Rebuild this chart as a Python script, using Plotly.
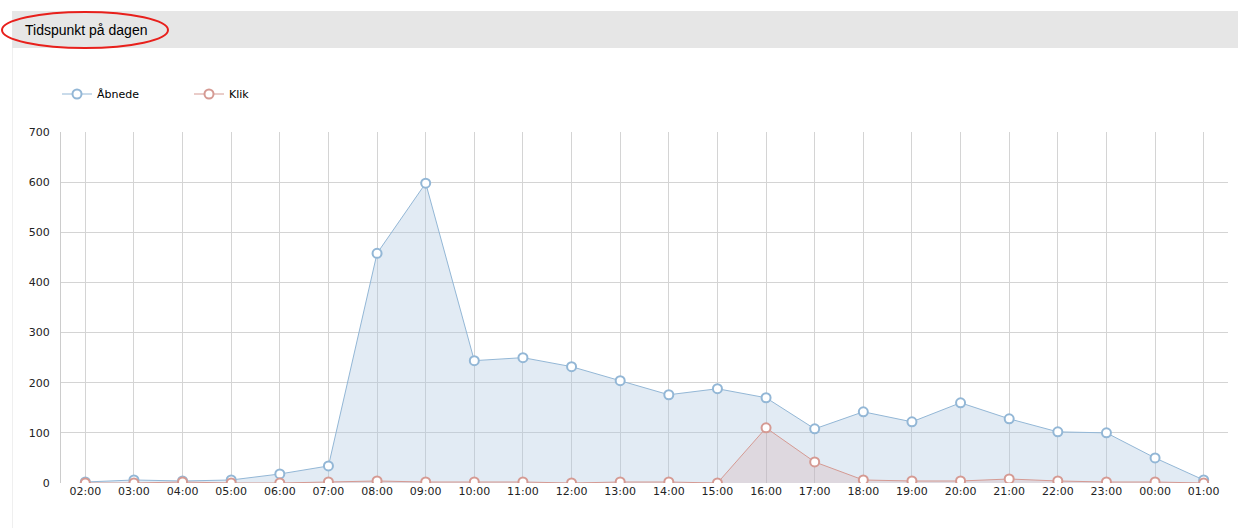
import plotly.graph_objects as go

hours = ["02:00","03:00","04:00","05:00","06:00","07:00","08:00","09:00","10:00","11:00","12:00","13:00",
         "14:00","15:00","16:00","17:00","18:00","19:00","20:00","21:00","22:00","23:00","00:00","01:00"]
abnede = [2, 6, 4, 6, 18, 34, 458, 598, 244, 250, 232, 204, 176, 188, 170, 108, 142, 122, 160, 128, 102, 100, 50, 6]
klik = [0, 0, 2, 0, 0, 2, 4, 2, 2, 2, 0, 2, 2, 0, 110, 42, 6, 4, 4, 8, 4, 2, 2, 0]
y_ticks = [0, 100, 200, 300, 400, 500, 600, 700]

W, H = 1238, 528
L, R, T, B = 61, 10, 132, 45
pw, ph = W - L - R, H - T - B

def px(x):
    return (x - L) / pw

def py(y):
    return (H - B - y) / ph

blue = "#93b7d6"
red = "#d59a93"
font = "DejaVu Sans, Verdana, sans-serif"

fig = go.Figure()
# area fills (no legend)
fig.add_trace(go.Scatter(x=hours, y=abnede, mode="lines", line=dict(width=0, color=blue),
                         fill="tozeroy", fillcolor="rgba(173,198,224,0.35)",
                         showlegend=False, hoverinfo="skip"))
fig.add_trace(go.Scatter(x=hours, y=klik, mode="lines", line=dict(width=0, color=red),
                         fill="tozeroy", fillcolor="rgba(210,160,160,0.25)",
                         showlegend=False, hoverinfo="skip"))
# lines + markers
fig.add_trace(go.Scatter(
    x=hours, y=abnede, name="Åbnede", mode="lines+markers",
    line=dict(color=blue, width=1),
    marker=dict(symbol="circle", size=9, color="white", line=dict(color=blue, width=2)),
))
fig.add_trace(go.Scatter(
    x=hours, y=klik, name="Klik", mode="lines+markers",
    line=dict(color=red, width=1),
    marker=dict(symbol="circle", size=9, color="white", line=dict(color=red, width=2)),
))

shapes = [
    dict(type="rect", xref="paper", yref="paper", x0=px(12), x1=px(1238), y0=py(11), y1=py(48),
         fillcolor="#e6e6e6", line=dict(width=0), layer="below"),
    dict(type="line", xref="paper", yref="paper", x0=px(12.5), x1=px(12.5), y0=py(48), y1=py(528),
         line=dict(color="#efefef", width=1), layer="below"),
    dict(type="circle", xref="paper", yref="paper", x0=px(2), x1=px(168), y0=py(12), y1=py(48),
         line=dict(color="#e8201c", width=2)),
]

fig.update_layout(
    width=W, height=H,
    margin=dict(l=L, r=R, t=T, b=B, pad=0),
    paper_bgcolor="white", plot_bgcolor="white",
    font=dict(family=font, size=11, color="#222"),
    showlegend=True,
    legend=dict(orientation="h", x=px(57), y=py(94), xanchor="left", yanchor="middle",
                entrywidth=87, entrywidthmode="pixels",
                font=dict(family=font, size=11, color="#000"), bgcolor="rgba(0,0,0,0)"),
    shapes=shapes,
    annotations=[dict(text="Tidspunkt på dagen", xref="paper", yref="paper", x=px(23), y=py(30),
                      xanchor="left", yanchor="middle", showarrow=False,
                      font=dict(family="Liberation Sans, Arial, sans-serif", size=14, color="#000"))],
    xaxis=dict(type="category", categoryorder="array", categoryarray=hours, range=[-0.5, 23.5],
               showgrid=True, gridcolor="#d4d4d4", gridwidth=1, showline=False, zeroline=False,
               ticks="", tickfont=dict(family=font, size=11, color="#222"), fixedrange=True),
    yaxis=dict(range=[0, 700], tickvals=y_ticks, showgrid=True, gridcolor="#d4d4d4", gridwidth=1,
               showline=True, linecolor="#cccccc", linewidth=1, zeroline=False, ticks="",
               ticklabelstandoff=8, tickfont=dict(family=font, size=11, color="#222"), fixedrange=True),
)

fig.write_html("out.html", config={"displayModeBar": False},
               post_script="document.body.style.margin='0';document.body.style.padding='0';")
